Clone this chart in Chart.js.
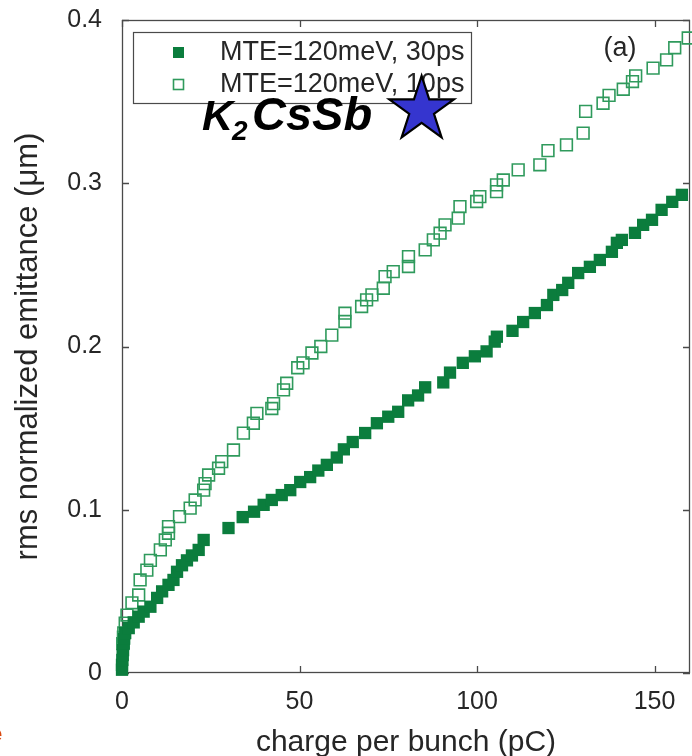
<!DOCTYPE html>
<html>
<head>
<meta charset="utf-8">
<script src="https://cdn.jsdelivr.net/npm/chart.js@4/dist/chart.umd.min.js"></script>
<style>
  body { margin: 0; background: #fff; }
  canvas { display: block; }
</style>
</head>
<body>
<canvas id="chart" width="692" height="756"></canvas>
<script>
// charge per bunch (pC) and emittance (um)
const q30 = [0, 0, 0.1, 0.2, 0.3, 0.5, 0.6, 0.9, 1.9, 3.3, 4.7, 6.1, 8, 9.9, 11.3, 13.1, 14.5, 15.5, 16.9, 18.3,
    19.7, 21.6, 23, 30, 34, 37.2, 39.9, 42.2, 45, 47.4, 50.2, 53, 55.3, 57.7, 60.5, 62.5, 65, 68.5, 71.8, 75,
    77.8, 80.6, 83.4, 85.4, 90.5, 92.4, 96, 99.4, 102.7, 105, 105.6, 110, 113, 116.3, 119.7, 121.5, 124, 125.7,
    128.5, 131.8, 134.6, 138, 139.4, 140.8, 144.5, 146.8, 149.3, 152, 155, 157.7];
const emit30 = [0.002, 0.005, 0.008, 0.011, 0.014, 0.018, 0.021, 0.0245, 0.0275, 0.031, 0.0345, 0.0376, 0.0406, 0.046,
    0.05, 0.054, 0.057, 0.062, 0.066, 0.069, 0.072, 0.0754, 0.0815, 0.0888, 0.0955, 0.0988, 0.103, 0.106, 0.109,
    0.112, 0.117, 0.12, 0.124, 0.1275, 0.132, 0.137, 0.1415, 0.147, 0.153, 0.157, 0.16, 0.167, 0.17, 0.175, 0.178,
    0.184, 0.19, 0.194, 0.197, 0.203, 0.206, 0.2096, 0.215, 0.2205, 0.2254, 0.2316, 0.2346, 0.239, 0.245, 0.2488,
    0.253, 0.258, 0.2635, 0.2653, 0.2696, 0.2745, 0.2776, 0.2837, 0.2886, 0.2929];

const q10 = [0.2, 0.4, 0.5, 0.9, 1.4, 2.8, 4.7, 5.1, 7, 8, 10.8, 12.2, 13.1, 13.1, 16.2, 19.2, 20.6, 23, 23.4, 24.4,
    27.2, 28.1, 31.4, 34.2, 37, 38, 42.2, 42.7, 45.5, 46.4, 49.5, 51, 53.5, 56, 59.1, 62.8, 62.8, 67.5, 68.9, 70.4,
    73.6, 74.1, 76.4, 80.7, 80.7, 85.4, 87.7, 89.6, 91, 94.7, 95.2, 99.9, 100.8, 105.5, 105.5, 107.4, 111.6, 117.7,
    120, 125.2, 129.9, 130.6, 135.5, 137.2, 141.2, 143.8, 144.7, 149.6, 153.4, 155.7, 159.5];
const emit10 = [0.018, 0.022, 0.0245, 0.0306, 0.0355, 0.043, 0.0478, 0.057, 0.063, 0.069, 0.0754, 0.0815, 0.0856,
    0.0897, 0.0958, 0.101, 0.106, 0.112, 0.116, 0.1213, 0.1254, 0.1295, 0.1366, 0.1469, 0.153, 0.159, 0.162, 0.165,
    0.1734, 0.1775, 0.187, 0.19, 0.196, 0.2, 0.207, 0.2153, 0.2204, 0.2245, 0.2286, 0.2316, 0.2357, 0.2428, 0.2459,
    0.249, 0.2551, 0.2592, 0.2653, 0.2694, 0.2745, 0.2786, 0.2857, 0.2888, 0.2918, 0.2949, 0.299, 0.302, 0.3082,
    0.3113, 0.32, 0.3235, 0.3307, 0.344, 0.349, 0.3538, 0.3576, 0.3623, 0.3658, 0.3705, 0.3756, 0.383, 0.389];

const seriesLabels = ['MTE=120meV, 30ps', 'MTE=120meV, 10ps'];
const xTicks = [0, 50, 100, 150];
const yTicks = [0, 0.1, 0.2, 0.3, 0.4];

// where the star marker sits (data units)
const starAt = { x: 84.4, y: 0.345 };

const FONT = "'Liberation Sans', Arial, Helvetica, sans-serif";
const TXT = '#262626';
const GREEN = '#0b7d3d';
const GREEN_OPEN = '#2f9a5c';

function toPoints(xs, ys) {
    return xs.map((v, i) => ({ x: v, y: ys[i] }));
}

function drawStar(ctx, cx, cy, r) {
    ctx.beginPath();
    for (let i = 0; i < 10; i++) {
        const rad = i % 2 === 0 ? r : r * 0.382;
        const a = -Math.PI / 2 + i * Math.PI / 5;
        const px = cx + rad * Math.cos(a), py = cy + rad * Math.sin(a);
        if (i === 0) ctx.moveTo(px, py); else ctx.lineTo(px, py);
    }
    ctx.closePath();
    ctx.fillStyle = '#3535cf';
    ctx.fill();
    ctx.lineWidth = 2.2;
    ctx.strokeStyle = '#000';
    ctx.lineJoin = 'miter';
    ctx.stroke();
}

// box frame with inward ticks (matlab style)
const framePlugin = {
    id: 'frame',
    beforeDatasetsDraw(chart) {
        const { ctx, chartArea: a, scales } = chart;
        ctx.save();
        ctx.strokeStyle = '#4a4a4a';
        ctx.lineWidth = 1.3;
        ctx.strokeRect(a.left + 0.5, a.top + 0.5, a.right - a.left - 1, a.bottom - a.top - 1);
        ctx.beginPath();
        xTicks.forEach(v => {
            const px = Math.round(scales.x.getPixelForValue(v)) + 0.5;
            ctx.moveTo(px, a.bottom); ctx.lineTo(px, a.bottom - 7);
            ctx.moveTo(px, a.top); ctx.lineTo(px, a.top + 7);
        });
        yTicks.forEach(v => {
            const py = Math.round(scales.y.getPixelForValue(v)) + 0.5;
            ctx.moveTo(a.left, py); ctx.lineTo(a.left + 7, py);
            ctx.moveTo(a.right, py); ctx.lineTo(a.right - 7, py);
        });
        ctx.stroke();
        ctx.restore();
    },
    afterDatasetsDraw(chart) {
        const { ctx, scales } = chart;
        ctx.save();

        // legend box
        ctx.fillStyle = '#fff';
        ctx.fillRect(133, 32, 338, 71);
        ctx.strokeStyle = '#4a4a4a';
        ctx.lineWidth = 1.2;
        ctx.strokeRect(133.5, 32.5, 338, 71);
        ctx.fillStyle = GREEN;
        ctx.fillRect(173, 47, 11, 11);
        ctx.strokeStyle = GREEN_OPEN;
        ctx.lineWidth = 1.6;
        ctx.strokeRect(173.5, 79.5, 10, 10);
        ctx.fillStyle = TXT;
        ctx.font = '27px ' + FONT;
        ctx.textBaseline = 'middle';
        ctx.fillText(chart.data.datasets[0].label, 220, 53);
        ctx.fillText(chart.data.datasets[1].label, 220, 85);

        // panel tag
        ctx.textAlign = 'center';
        ctx.fillText('(a)', 620, 49);

        // material label
        ctx.textAlign = 'left';
        ctx.textBaseline = 'alphabetic';
        ctx.fillStyle = '#000';
        ctx.font = 'italic bold 43px ' + FONT;
        ctx.fillText('K', 202, 130);
        ctx.font = 'italic bold 28px ' + FONT;
        ctx.fillText('2', 232, 140);
        ctx.font = 'italic bold 47px ' + FONT;
        ctx.fillText('CsSb', 252, 130);

        const sx = scales.x.getPixelForValue(starAt.x);
        const sy = scales.y.getPixelForValue(starAt.y);
        drawStar(ctx, sx, sy, 34);

        // clipped red letter at the page edge
        ctx.fillStyle = '#d9480f';
        ctx.font = 'bold 22px ' + FONT;
        ctx.fillText('e', -10, 741);
        ctx.restore();
    }
};

const ctx = document.getElementById('chart').getContext('2d');
const chart = new Chart(ctx, {
    type: 'scatter',
    data: {
        datasets: [{
            label: seriesLabels[0],
            data: toPoints(q30, emit30),
            pointStyle: 'rect',
            pointRadius: 8.7,
            backgroundColor: GREEN,
            borderColor: GREEN,
            borderWidth: 0,
            clip: false
        }, {
            label: seriesLabels[1],
            data: toPoints(q10, emit10),
            pointStyle: 'rect',
            pointRadius: 8.3,
            backgroundColor: 'rgba(255,255,255,0)',
            borderColor: GREEN_OPEN,
            borderWidth: 1.6,
            clip: false
        }]
    },
    options: {
        responsive: false,
        animation: false,
        devicePixelRatio: 1,
        // no extra room for point radius, the frame is fixed
        layout: { autoPadding: false, padding: { top: 20, right: 2, left: 0, bottom: 0 } },
        plugins: { legend: { display: false }, tooltip: { enabled: false } },
        scales: {
            x: {
                type: 'linear',
                min: 0,
                max: 160,
                afterBuildTicks: s => { s.ticks = xTicks.map(v => ({ value: v })); },
                afterFit: s => { s.height = 83; s.paddingLeft = 0; s.paddingRight = 0; },
                grid: { display: false },
                border: { display: false },
                ticks: { color: TXT, font: { family: FONT, size: 25 }, padding: 6, maxRotation: 0 },
                title: {
                    display: true,
                    text: 'charge per bunch (pC)',
                    color: TXT,
                    font: { family: FONT, size: 30 },
                    padding: { top: 0, bottom: -5 }
                }
            },
            y: {
                type: 'linear',
                min: 0,
                max: 0.4,
                afterBuildTicks: s => { s.ticks = yTicks.map(v => ({ value: v })); },
                afterFit: s => { s.width = 122; s.paddingTop = 0; s.paddingBottom = 0; },
                grid: { display: false },
                border: { display: false },
                ticks: { color: TXT, font: { family: FONT, size: 25 }, padding: 12, callback: v => String(v) },
                title: {
                    display: true,
                    text: 'rms normalized emittance (\u03bcm)',
                    color: TXT,
                    font: { family: FONT, size: 31 },
                    padding: { top: 10, bottom: 0 }
                }
            }
        }
    },
    plugins: [framePlugin]
});
</script>
</body>
</html>
